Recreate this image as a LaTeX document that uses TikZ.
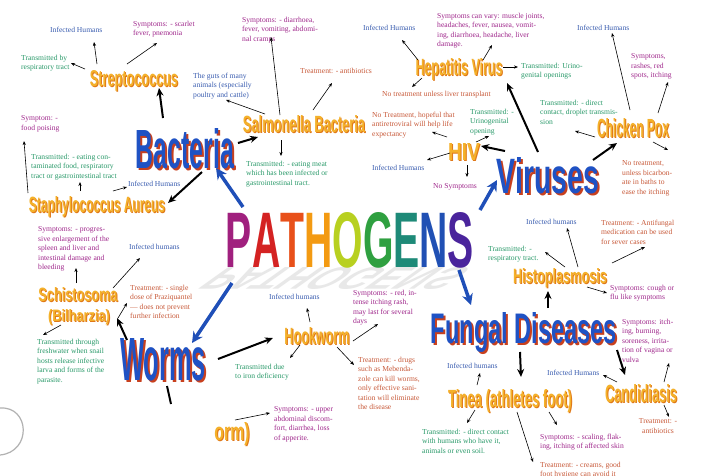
\documentclass[tikz,border=0pt]{standalone}
\usepackage{fontspec}
\setmainfont{Liberation Serif}
\newfontfamily\bigfont{Liberation Sans}
\usepackage{graphicx}
\usetikzlibrary{arrows.meta}
\definecolor{cblue}{HTML}{3A5DB0}
\definecolor{cgreen}{HTML}{2A9A6A}
\definecolor{cmag}{HTML}{A0288C}
\definecolor{corange}{HTML}{C85A3A}
\definecolor{catblue}{HTML}{1F52C4}
\definecolor{catshadow}{HTML}{C8401E}
\definecolor{subfill}{HTML}{F4B12A}
\definecolor{subshadow}{HTML}{E07818}
\definecolor{arrowblue}{HTML}{1F4FB8}
\definecolor{pP}{HTML}{A0207E}
\definecolor{pA}{HTML}{D42222}
\definecolor{pT}{HTML}{E8501A}
\definecolor{pH}{HTML}{F39A12}
\definecolor{pO}{HTML}{B8D020}
\definecolor{pG}{HTML}{2FA040}
\definecolor{pE}{HTML}{1E8A78}
\definecolor{pN}{HTML}{2050B4}
\definecolor{pS}{HTML}{4A249C}
\tikzset{
  infotxt/.style={inner sep=0pt, align=left, font=\fontsize{7.6}{9.5}\selectfont},
  thinarrow/.style={line width=0.6pt, -{Stealth[length=4pt,width=3.2pt]}},
  thickarrow/.style={line width=2pt, -{Stealth[length=8pt,width=7pt]}},
  thickline/.style={line width=2pt},
  bluearrow/.style={draw=arrowblue, line width=3.5pt, -{Stealth[length=11pt,width=11pt]}},
}
\newcommand\catword[6]{%
  \node[anchor=base, inner sep=0pt] (#1) at (#2,#3) {\rlap{\hspace{2pt}\raisebox{-2pt}{\color{catshadow}\resizebox{#4pt}{#5pt}{\bigfont\bfseries #6}}}\color{catblue}\resizebox{#4pt}{#5pt}{\bigfont\bfseries #6}};}
\newcommand\subword[6]{%
  \node[anchor=base, inner sep=0pt] (#1) at (#2,#3) {\rlap{\hspace{1pt}\raisebox{-1pt}{\color{subshadow}\resizebox{#4pt}{#5pt}{\bigfont\bfseries #6}}}\color{subfill}\resizebox{#4pt}{#5pt}{\bigfont\bfseries #6}};}
\newcommand\infotext[5]{\node[infotxt, text=#2, anchor=north west] (#1) at (#3,#4-3.3) {#5};}
\newcommand\mylink[4]{\coordinate (#1a) at (#3); \coordinate (#1b) at (#4); \draw[#2] (#1a) -- (#1b);}
\begin{document}
\begin{tikzpicture}[x=1pt,y=-1pt]
\useasboundingbox[fill=white] (0,0) rectangle (705,475);

% faint loop at bottom left
\draw[gray!60, line width=1.2pt] (0,408) .. controls (30,406) and (32,452) .. (0,455);

% PATHOGENS shadow
\begin{scope}[shift={(350,267)}, transform shape, xslant=1.4, yscale=-0.4]
  \node[anchor=base, inner sep=0pt, text=black!9] at (0,0) {\resizebox{248pt}{55pt}{\bigfont\bfseries PATHOGENS}};
\end{scope}
% PATHOGENS
\node[anchor=base, inner sep=0pt] (path) at (350,267) {\resizebox{248pt}{55pt}{\bigfont\bfseries\color{pP}P\color{pA}A\color{pT}T\color{pH}H\color{pO}O\color{pG}G\color{pE}E\color{pN}N\color{pS}S}};

% categories
\catword{bact}{185}{168}{98}{40}{Bacteria}
\catword{vir}{548}{193}{102}{36}{Viruses}
\catword{worm}{163}{380}{86}{42}{Worms}
\catword{fung}{524}{343}{186}{31}{Fungal Diseases}

% sub topics
\subword{strep}{134}{86}{88}{16}{Streptococcus}
\subword{salm}{304}{132}{122}{17}{Salmonella Bacteria}
\subword{staph}{97}{212}{136}{16}{Staphylococcus Aureus}
\subword{schis}{78}{301}{79}{14}{Schistosoma}
\subword{bilh}{79}{321}{62}{12}{(Bilharzia)}
\subword{hook}{317}{344}{65}{17}{Hookworm}
\subword{tape}{232}{440}{35}{18}{orm)}
\subword{hep}{459}{75}{87}{17}{Hepatitis Virus}
\subword{hiv}{464}{160}{32}{17}{HIV}
\subword{chick}{633}{137}{72}{19}{Chicken Pox}
\subword{histo}{560}{283}{94}{15}{Histoplasmosis}
\subword{cand}{641}{402}{72}{18}{Candidiasis}
\subword{tinea}{510}{407}{124}{18}{Tinea (athletes foot)}

% detail texts
\infotext{strepInf}{cblue}{50}{30}{Infected Humans}
\infotext{strepSym}{cmag}{133}{24}{Symptoms: - scarlet\\fever, pnemonia}
\infotext{strepTr}{cgreen}{21}{58}{Transmitted by\\respiratory tract}
\infotext{salGuts}{cblue}{193}{76}{The guts of many\\animals (especially\\poultry and cattle)}
\infotext{staphSym}{cmag}{21}{119}{Symptom: -\\food poising}
\infotext{staphTr}{cgreen}{31}{157}{Transmitted: - eating con-\\taminated food, respiratory\\tract or gastrointestinal tract}
\infotext{staphInf}{cblue}{128}{184}{Infected Humans}
\infotext{schSym}{cmag}{38}{230}{Symptoms: - progres-\\sive enlargement of the\\spleen and liver and\\intestinal damage and\\bleeding}
\infotext{schInf}{cblue}{129}{247}{Infected humans}
\infotext{schTreat}{corange}{130}{288}{Treatment: - single\\dose of Praziquantel\\— does not prevent\\further infection}
\infotext{schTr}{cgreen}{37}{342}{Transmitted through\\freshwater when snail\\hosts release infective\\larva and forms of the\\parasite.}
\infotext{salSym}{cmag}{242}{20}{Symptoms: - diarrhoea,\\fever, vomiting, abdomi-\\nal cramps}
\infotext{salTreat}{corange}{300}{71}{Treatment: - antibiotics}
\infotext{salTr}{cgreen}{246}{164}{Transmitted: - eating meat\\which has been infected or\\gastrointestinal tract.}
\infotext{hepInf}{cblue}{363}{28}{Infected Humans}
\infotext{hepSym}{cmag}{437}{16}{Symptoms can vary: muscle joints,\\headaches, fever, nausea, vomit-\\ing, diarrhoea, headache, liver\\damage.}
\infotext{hepTr}{cgreen}{521}{66}{Transmitted: Urino-\\genital openings}
\infotext{hepTreat}{corange}{382}{94}{No treatment unless liver transplant}
\infotext{hivTreat}{corange}{372}{115}{No Treatment, hopeful that\\antiretroviral will help life\\expectancy}
\infotext{hivTr}{cgreen}{470}{112}{Transmitted: -\\Urinogenital\\opening}
\infotext{hivInf}{cblue}{372}{168}{Infected Humans}
\infotext{hivSym}{cmag}{433}{187}{No Symptoms}
\infotext{cpInf}{cblue}{577}{28}{Infected Humans}
\infotext{cpSym}{cmag}{631}{57}{Symptoms,\\rashes, red\\spots, itching}
\infotext{cpTr}{cgreen}{540}{103}{Transmitted: - direct\\contact, droplet transmis-\\sion}
\infotext{cpTreat}{corange}{622}{164}{No treatment,\\unless bicarbon-\\ate in baths to\\ease the itching}
\infotext{hisInf}{cblue}{526}{222}{Infected humans}
\infotext{hisTreat}{corange}{601}{223}{Treatment: - Antifungal\\medication can be used\\for sever cases}
\infotext{hisTr}{cgreen}{488}{249}{Transmitted: -\\respiratory tract.}
\infotext{hisSym}{cmag}{610}{288}{Symptoms: cough or\\flu like symptoms}
\infotext{canSym}{cmag}{622}{322}{Symptoms: itch-\\ing, burning,\\soreness, irrita-\\tion of vagina or\\vulva}
\infotext{canInf}{cblue}{547}{373}{Infected Humans}
\node[infotxt, align=center, text=corange, anchor=north] (canTreat) at (658,422-3.3) {Treatment: -\\antibiotics};
\infotext{tinInf}{cblue}{447}{366}{Infected humans}
\infotext{tinSym}{cmag}{540}{437}{Symptoms: - scaling, flak-\\ing, itching of affected skin}
\infotext{tinTr}{cgreen}{422}{432}{Transmitted: - direct contact\\with humans who have it,\\animals or even soil.}
\infotext{tinTreat}{corange}{540}{465}{Treatment: - creams, good\\foot hygiene can avoid it}
\infotext{hookInf}{cblue}{269}{297}{Infected humans}
\infotext{hookSym}{cmag}{353}{293}{Symptoms: - red, in-\\tense itching rash,\\may last for several\\days}
\infotext{hookTr}{cgreen}{235}{367}{Transmitted due\\to iron deficiency}
\infotext{hookTreat}{corange}{358}{360}{Treatment: - drugs\\such as Mebenda-\\zole can kill worms,\\only effective sani-\\tation will eliminate\\the disease}
\infotext{tapeSym}{cmag}{274}{410}{Symptoms: - upper\\abdominal discom-\\fort, diarrhea, loss\\of apperite.}

% blue arrows
\mylink{bA}{bluearrow}{243,207}{216,168}
\mylink{bB}{bluearrow}{480,210}{497,180}
\mylink{bC}{bluearrow}{232,283}{192,343}
\mylink{bD}{bluearrow}{459,270}{471,305}

% thick black arrows
\mylink{kA}{thickarrow}{163,118}{159,88}
\mylink{kB}{thickarrow}{238,143}{258,137}
\mylink{kC}{thickarrow}{202,172}{168,203}
\mylink{kD}{thickarrow}{538,152}{507,83}
\mylink{kE}{thickarrow}{505,151}{481,146}
\mylink{kF}{thickarrow}{593,160}{617,143}
\mylink{kG}{thickarrow}{127,340}{117,318}
\mylink{kH}{thickarrow}{218,359}{273,338}
\mylink{kI}{thickline}{167,386}{171,404}
\mylink{kJ}{thickarrow}{520,352}{521,377}
\mylink{kK}{thickarrow}{548,308}{548,291}
\mylink{kL}{thickarrow}{617,350}{625,375}

% thin arrows
\mylink{tA1}{thinarrow}{97,64}{94,42}
\mylink{tA2}{thinarrow}{127,64}{157,43}
\mylink{tA3}{thinarrow}{85,69}{71,63}
\mylink{tB1}{thinarrow}{280,115}{271,37}
\mylink{tB2}{thinarrow}{313,110}{332,83}
\mylink{tB3}{thinarrow}{265,114}{226,100}
\mylink{tB4}{thinarrow}{281,140}{281,156}
\mylink{tC1}{thinarrow}{80,191}{80,182}
\mylink{tC2}{thinarrow}{113,191}{127,187}
\mylink{tC3}{thinarrow}{28,193}{24,141}
\mylink{tD1}{thinarrow}{76,283}{76,268}
\mylink{tD2}{thinarrow}{113,288}{140,258}
\mylink{tD3}{thinarrow}{118,318}{127,303}
\mylink{tD4}{thinarrow}{61,325}{43,335}
\mylink{tE1}{thinarrow}{310,322}{307,308}
\mylink{tE2}{thinarrow}{353,341}{378,324}
\mylink{tE3}{thinarrow}{300,345}{290,358}
\mylink{tE4}{thinarrow}{337,347}{354,365}
\mylink{tF1}{thinarrow}{235,420}{270,413}
\mylink{tG1}{thinarrow}{418,60}{402,40}
\mylink{tG2}{thinarrow}{483,60}{492,45}
\mylink{tG3}{thinarrow}{503,67}{518,67}
\mylink{tG4}{thinarrow}{422,78}{412,87}
\mylink{tH1}{thinarrow}{447,137}{432,132}
\mylink{tH2}{thinarrow}{476,142}{489,136}
\mylink{tH3}{thinarrow}{450,153}{427,160}
\mylink{tH4}{thinarrow}{467,165}{467,177}
\mylink{tI1}{thinarrow}{630,110}{612,33}
\mylink{tI2}{thinarrow}{658,113}{668,82}
\mylink{tI3}{thinarrow}{595,137}{575,131}
\mylink{tI4}{thinarrow}{653,142}{668,150}
\mylink{tJ1}{thinarrow}{565,267}{545,252}
\mylink{tJ2}{thinarrow}{578,267}{567,228}
\mylink{tJ3}{thinarrow}{612,263}{645,247}
\mylink{tJ4}{thinarrow}{587,287}{607,293}
\mylink{tK1}{thinarrow}{617,382}{603,375}
\mylink{tK2}{thinarrow}{664,382}{669,363}
\mylink{tK3}{thinarrow}{664,405}{669,417}
\mylink{tL1}{thinarrow}{477,385}{480,373}
\mylink{tL2}{thinarrow}{475,410}{467,423}
\mylink{tL3}{thinarrow}{517,412}{533,462}
\mylink{tL4}{thinarrow}{549,412}{557,425}
\end{tikzpicture}
\end{document}
